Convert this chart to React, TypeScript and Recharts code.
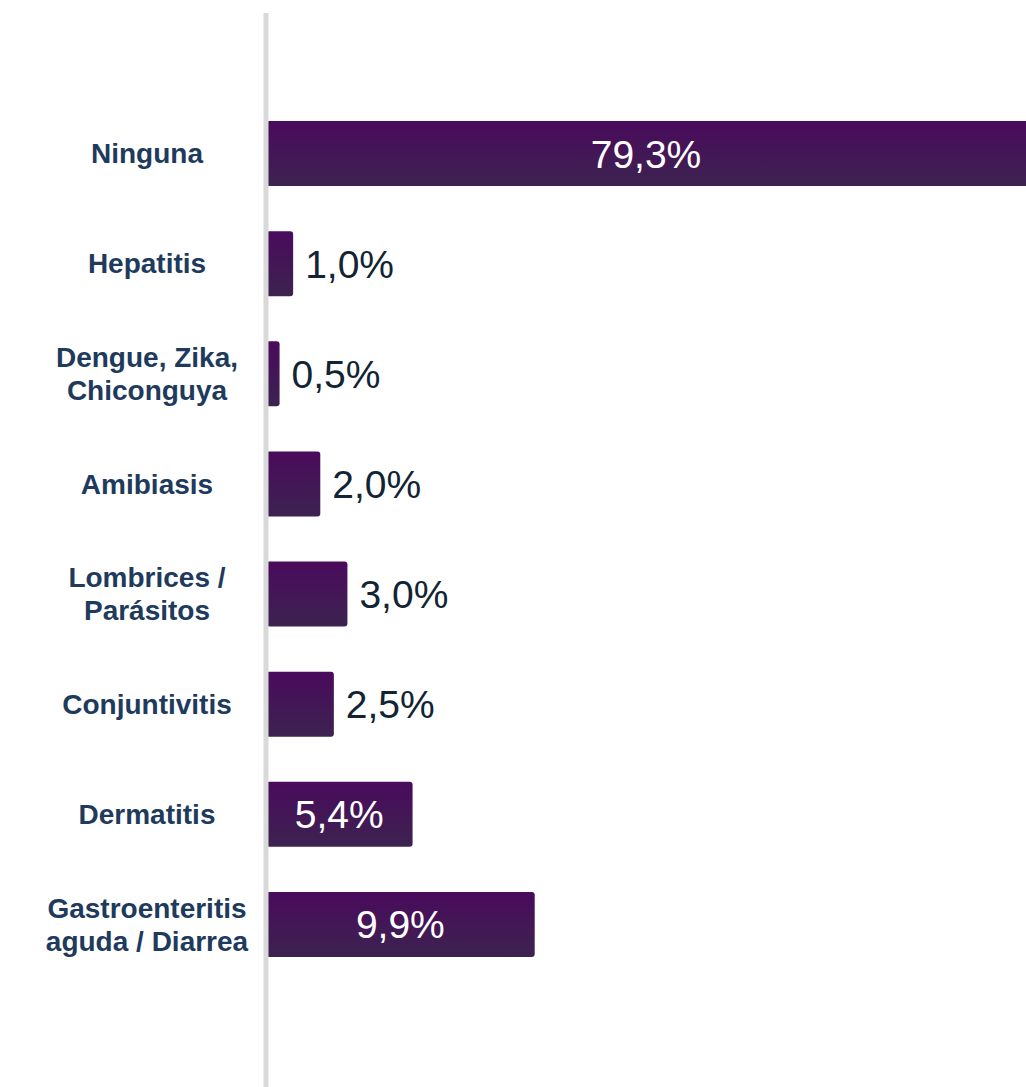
import React from 'react';
import { BarChart, Bar, XAxis, YAxis, LabelList } from 'recharts';

const categories = [
  'Ninguna',
  'Hepatitis',
  'Dengue, Zika,\nChiconguya',
  'Amibiasis',
  'Lombrices /\nParásitos',
  'Conjuntivitis',
  'Dermatitis',
  'Gastroenteritis\naguda / Diarrea',
];
const values = [79.3, 1.0, 0.5, 2.0, 3.0, 2.5, 5.4, 9.9];
const valueLabels = ['79,3%', '1,0%', '0,5%', '2,0%', '3,0%', '2,5%', '5,4%', '9,9%'];
const axisDomain = [0, 28];

const data = categories.map((name, i) => ({ name, value: values[i], label: valueLabels[i] }));

const W = 1026;
const H = 1087;
const AXIS_W = 266;
const LABEL_X = 147;
const FONT = '"Liberation Sans", Arial, sans-serif';

const CategoryTick = (props: any) => {
  const { y, payload } = props;
  const lines = String(payload.value).split('\n');
  const lh = 33;
  const y0 = y - ((lines.length - 1) * lh) / 2;
  return (
    <text textAnchor="middle" fill="#1e3a5c" fontSize={28} fontWeight={700} fontFamily={FONT}>
      {lines.map((l, i) => (
        <tspan key={i} x={LABEL_X} y={y0 + i * lh} dy="0.36em">
          {l}
        </tspan>
      ))}
    </text>
  );
};

const renderValueLabel = (props: any) => {
  const vb = props.viewBox ?? props;
  const x = Number(props.x ?? vb.x);
  const y = Number(props.y ?? vb.y);
  const width = Number(props.width ?? vb.width);
  const height = Number(props.height ?? vb.height);
  const value = props.value;
  const right = Math.min(x + width, W);
  const visibleW = right - x;
  const inside = visibleW > 120;
  const cx = inside ? x + visibleW / 2 : right + 12;
  return (
    <text
      x={cx}
      y={y + height / 2}
      dy="0.36em"
      textAnchor={inside ? 'middle' : 'start'}
      fill={inside ? '#ffffff' : '#122433'}
      fontSize={39}
      fontFamily={FONT}
    >
      {value}
    </text>
  );
};

export default function App() {
  return (
    <div style={{ position: 'absolute', left: 0, top: 0, width: W, height: H, overflow: 'hidden', background: '#fff' }}>
      <BarChart
        width={W}
        height={H}
        data={data}
        layout="vertical"
        margin={{ top: 13, right: 0, bottom: 0, left: 0 }}
      >
        <defs>
          <linearGradient id="barGrad" x1="0" y1="0" x2="0" y2="1">
            <stop offset="0%" stopColor="#4a0a5c" />
            <stop offset="100%" stopColor="#3c2350" />
          </linearGradient>
        </defs>
        <XAxis type="number" domain={axisDomain} allowDataOverflow hide />
        <YAxis
          type="category"
          dataKey="name"
          width={AXIS_W}
          axisLine={{ stroke: '#d9d9d9', strokeWidth: 5 }}
          tickLine={false}
          tick={<CategoryTick />}
          interval={0}
          padding={{ top: 85, bottom: 108 }}
        />
        <Bar dataKey="value" fill="url(#barGrad)" barSize={65} radius={3} isAnimationActive={false}>
          <LabelList dataKey="label" content={renderValueLabel} />
        </Bar>
      </BarChart>
    </div>
  );
}
